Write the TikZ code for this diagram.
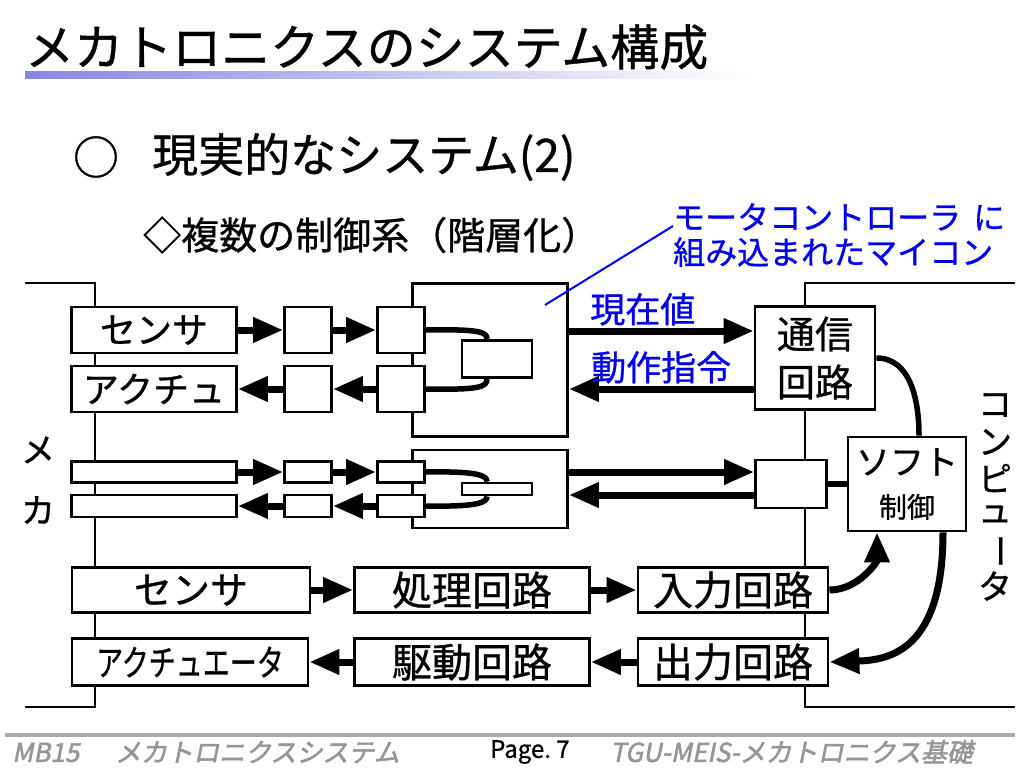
\documentclass[tikz,border=0pt]{standalone}
\usepackage{fontspec}
\usepackage{graphicx}
\setmainfont[FakeBold=0.8]{Noto Sans CJK JP}
\newfontfamily\footfont[FakeSlant=0.2,FakeBold=2]{Noto Sans CJK JP}
\usetikzlibrary{arrows.meta}
\definecolor{noteblue}{RGB}{0,0,240}
\definecolor{footgray}{RGB}{150,150,150}
\definecolor{barblue}{RGB}{135,135,225}
\newcommand{\fsz}[1]{\fontsize{#1}{#1}\selectfont}
\begin{document}
\begin{tikzpicture}[x=1pt,y=-1pt,>={Triangle[length=30pt,width=24pt]},
  blk/.style={draw,line width=2.8pt,fill=white,inner sep=0pt},
  arr/.style={line width=7pt,->},
  wire/.style={line width=5.5pt},
  frame/.style={line width=2.8pt},
  lbl/.style={text=noteblue,inner sep=0pt,font=\fsz{35}}]
\fill[white] (0,0) rectangle (1024,768);
\useasboundingbox (0,0) rectangle (1024,768);
\node[anchor=west,inner sep=0pt,font=\fsz{49}] (title) at (25,47) {メカトロニクスのシステム構成};
\shade[left color=barblue,right color=white] (25,71) rectangle (750,78);
\node[inner sep=0pt,font=\fsz{46}] (circ) at (96,157) {○};
\node[anchor=west,inner sep=0pt,font=\fsz{46}] (sub) at (152,157) {現実的なシステム(2)};
\node[anchor=west,inner sep=0pt,font=\fsz{38}] (subsub) at (143,235) {◇複数の制御系（階層化）};
\node[anchor=north west,inner sep=0pt,align=left,text=noteblue,font=\fontsize{32}{35}\selectfont] (note) at (673,203) {モータコントローラ\hspace{12pt}に\\組み込まれたマイコン};
\draw[frame] (25,283) -- (95,283) -- (95,707) -- (25,707);
\draw[frame] (1015,283) -- (805,283) -- (805,707) -- (1015,707);
\node[font=\fsz{34}] (me) at (38,450) {メ};
\node[font=\fsz{34}] (ka) at (38,510) {カ};
\foreach \ch/\yy in {コ/405,ン/442,ピ/478,ュ/514}
  \node[font=\fsz{34},inner sep=0pt] (v\yy) at (995,\yy) {\ch};
\node[font=\fsz{34},inner sep=0pt,rotate=-90] (vbar) at (995,551) {ー};
\node[font=\fsz{34},inner sep=0pt] (vta) at (995,586) {タ};
\node[blk,minimum width=155pt,minimum height=153pt] (mc1) at (490,360) {};
\node[blk,minimum width=155pt,minimum height=78pt] (mc2) at (490,489) {};
\node[blk,minimum width=70pt,minimum height=37pt] (in1) at (497,359) {};
\node[blk,minimum width=70pt,minimum height=12pt] (in2) at (497,489) {};
\coordinate (mcu) at (545,305);
\draw[noteblue,line width=2pt] (mcu) -- ([yshift=9pt]note.west);
\node[blk,minimum width=165pt,minimum height=46pt,font=\fsz{36}] (sen1) at (154,330) {センサ};
\node[blk,minimum width=47pt,minimum height=46pt] (sen1b) at (308,330) {};
\node[blk,minimum width=47pt,minimum height=46pt] (sen1c) at (401,330) {};
\node[blk,minimum width=165pt,minimum height=46pt,font=\fsz{36}] (act1) at (154,389) {アクチュ};
\node[blk,minimum width=47pt,minimum height=46pt] (act1b) at (308,389) {};
\node[blk,minimum width=47pt,minimum height=46pt] (act1c) at (401,389) {};
\node[blk,minimum width=165pt,minimum height=21pt] (sen2) at (154,472) {};
\node[blk,minimum width=47pt,minimum height=21pt] (sen2b) at (308,472) {};
\node[blk,minimum width=47pt,minimum height=21pt] (sen2c) at (401,472) {};
\node[blk,minimum width=165pt,minimum height=22pt] (act2) at (154,506) {};
\node[blk,minimum width=47pt,minimum height=22pt] (act2b) at (308,506) {};
\node[blk,minimum width=47pt,minimum height=22pt] (act2c) at (401,506) {};
\draw[wire] (sen1c.east) .. controls (480,329) and (487,332) .. ([xshift=-10pt]in1.north);
\draw[wire] (act1c.east) .. controls (480,390) and (487,387) .. ([xshift=-10pt]in1.south);
\draw[wire] (sen2c.east) .. controls (480,471) and (487,476) .. ([xshift=-10pt]in2.north);
\draw[wire] (act2c.east) .. controls (480,507) and (487,502) .. ([xshift=-10pt]in2.south);
\draw[arr] (sen1) -- (sen1b);
\draw[arr] (sen1b) -- (sen1c);
\draw[arr] (act1c) -- (act1b);
\draw[arr] (act1b) -- (act1);
\draw[arr] (sen2) -- (sen2b);
\draw[arr] (sen2b) -- (sen2c);
\draw[arr] (act2c) -- (act2b);
\draw[arr] (act2b) -- (act2);
\node[blk,minimum width=120pt,minimum height=103pt,align=center,font=\fontsize{38}{48}\selectfont] (comm) at (815,358) {通信\\回路};
\node[blk,minimum width=71pt,minimum height=48pt] (port) at (791,484) {};
\node[blk,minimum width=118pt,minimum height=94pt,align=center,font=\fontsize{34}{36}\selectfont] (soft) at (907,484) {ソフト\\[7pt]{\fsz{28}制御}};
\draw[arr] ([yshift=29pt]mc1.east) -- ([yshift=29pt]mc1.east -| comm.west) node[pos=0.4,above=2pt,lbl] {現在値};
\draw[arr] ([yshift=-31pt]comm.west) -- ([yshift=-31pt]comm.west -| mc1.east) node[pos=0.5,above=2pt,lbl] {動作指令};
\draw[arr] ([yshift=12pt]port.west -| mc2.east) -- ([yshift=12pt]port.west);
\draw[arr] ([yshift=-11pt]port.west) -- ([yshift=-11pt]port.west -| mc2.east);
\draw[wire] (port) -- (soft);
\draw[wire] (comm.east) to[out=0,in=90] ([xshift=12pt]soft.north);
\node[blk,minimum width=238pt,minimum height=45pt,font=\fsz{38}] (sen3) at (191,590) {センサ};
\node[blk,minimum width=235pt,minimum height=45pt,font=\fsz{40}] (proc) at (472,590) {処理回路};
\node[blk,minimum width=190pt,minimum height=45pt,font=\fsz{40}] (inp) at (733,590) {入力回路};
\node[blk,minimum width=236pt,minimum height=47pt,font=\fsz{36}] (act3) at (190,662) {\scalebox{0.75}[1]{アクチュエータ}};
\node[blk,minimum width=235pt,minimum height=47pt,font=\fsz{40}] (drv) at (472,662) {駆動回路};
\node[blk,minimum width=190pt,minimum height=47pt,font=\fsz{40}] (outp) at (733,662) {出力回路};
\draw[arr] (sen3) -- (proc);
\draw[arr] (proc) -- (inp);
\draw[arr] (drv) -- (act3);
\draw[arr] (outp) -- (drv);
\draw[arr] (inp) to[out=0,in=-90] ([xshift=-30pt]soft.south);
\draw[arr] ([xshift=36pt]soft.south) .. controls (943,650) and (890,660) .. (outp.east);
\draw[line width=4pt,footgray!80] (5,735) -- (1015,735);
\node[anchor=west,inner sep=0pt,text=footgray,font=\footfont\fsz{26}] (foot1) at (12,752) {MB15\hspace{36pt}メカトロニクスシステム};
\node[anchor=west,inner sep=0pt,font=\fsz{24}] (page) at (490,752) {Page.\ 7};
\node[anchor=west,inner sep=0pt,text=footgray,font=\footfont\fsz{26}] (foot2) at (610,752) {TGU-MEIS-メカトロニクス基礎};
\end{tikzpicture}
\end{document}
